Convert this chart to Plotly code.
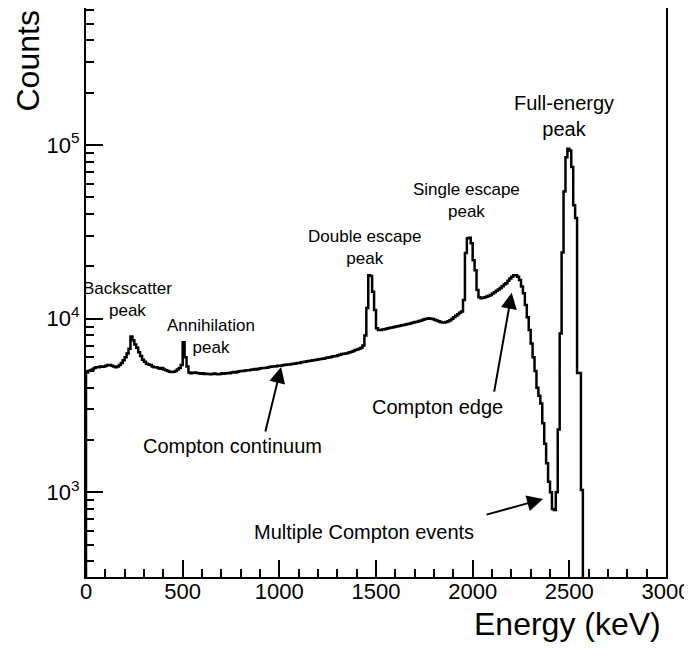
import plotly.graph_objects as go

# ---------------- data ----------------
bin_width_keV = 10
bin_low_keV = list(range(0, 3000, bin_width_keV))

counts = [
    4900, 5000, 5050, 5100, 5200, 5250, 5250, 5300, 5280, 5300,        # 0-90
    5350, 5400, 5400, 5350, 5300, 5250, 5300, 5400, 5550, 5750,        # 100-190
    6000, 6300, 6700, 7900, 7500, 7100, 6800, 6400, 6100, 5800,        # 200-290
    5650, 5500, 5450, 5400, 5300, 5250, 5250, 5200, 5150, 5200,        # 300-390
    5100, 5050, 5000, 4950, 4930, 4950, 5000, 5100, 5200, 5400,        # 400-490
    7300, 6000, 5300, 4900, 4850, 4880, 4900, 4870, 4850, 4820,        # 500-590
    4850, 4800, 4820, 4800, 4780, 4800, 4830, 4800, 4780, 4800,        # 600-690
    4850, 4820, 4850, 4870, 4850, 4900, 4920, 4900, 4950, 4970,        # 700-790
    5000, 5000, 5030, 5050, 5050, 5080, 5100, 5120, 5100, 5150,        # 800-890
    5180, 5200, 5200, 5220, 5250, 5280, 5300, 5300, 5320, 5350,        # 900-990
    5350, 5380, 5400, 5420, 5450, 5450, 5480, 5500, 5520, 5550,        # 1000-1090
    5550, 5600, 5620, 5650, 5680, 5700, 5720, 5750, 5780, 5800,        # 1100-1190
    5830, 5850, 5880, 5900, 5950, 5980, 6000, 6050, 6080, 6100,        # 1200-1290
    6150, 6200, 6250, 6280, 6300, 6350, 6400, 6450, 6500, 6600,        # 1300-1390
    6650, 6700, 6800, 7000, 8000, 11500, 17800, 17600, 14300, 11200,   # 1400-1490
    8800, 8600, 8600, 8650, 8700, 8750, 8800, 8850, 8900, 8950,        # 1500-1590
    9000, 9050, 9100, 9150, 9200, 9250, 9300, 9350, 9450, 9500,        # 1600-1690
    9550, 9600, 9700, 9750, 9850, 9950, 10000, 10050, 10000, 9950,     # 1700-1790
    9850, 9750, 9650, 9550, 9500, 9500, 9550, 9650, 9800, 10000,       # 1800-1890
    10200, 10400, 10600, 10800, 11000, 12800, 23900, 29000, 29200, 27200,  # 1900-1990
    21700, 19000, 14600, 13300, 13100, 13200, 13300, 13400, 13550, 13700,  # 2000-2090
    13950, 14200, 14450, 14700, 15000, 15350, 15700, 16000, 16500, 17000,  # 2100-2190
    17400, 17800, 17800, 17400, 16700, 15300, 14000, 12000, 10200, 8600,   # 2200-2290
    7200, 6000, 5000, 4000, 3600, 3250, 2500, 1900, 1470, 1150,        # 2300-2390
    1000, 800, 790, 1000, 2300, 8200, 24000, 54000, 85000, 95000,      # 2400-2490
    93000, 74600, 45000, 38000, 4870, 4870, 1030, 0, 0, 0,             # 2500-2590
    0, 0, 0, 0, 0, 0, 0, 0, 0, 0,                                      # 2600-2690
    0, 0, 0, 0, 0, 0, 0, 0, 0, 0,                                      # 2700-2790
    0, 0, 0, 0, 0, 0, 0, 0, 0, 0,                                      # 2800-2890
    0, 0, 0, 0, 0, 0, 0, 0, 0, 0,                                      # 2900-2990
]

x_tick_vals = [0, 500, 1000, 1500, 2000, 2500, 3000]
y_major_vals = [1e3, 1e4, 1e5]
y_major_text = ["10<sup>3</sup>", "10<sup>4</sup>", "10<sup>5</sup>"]
y_minor_vals = [400, 500, 600, 700, 800, 900,
                2000, 3000, 4000, 5000, 6000, 7000, 8000, 9000,
                20000, 30000, 40000, 50000, 60000, 70000, 80000, 90000,
                200000, 300000, 400000, 500000, 600000]

# ---------------- figure ----------------
floor = 1.0  # empty bins drawn at the bottom of the log axis
y_vals = [c if c > 0 else floor for c in counts]
x_step = [bin_low_keV[0]] + bin_low_keV + [bin_low_keV[-1] + bin_width_keV]
y_step = [floor] + y_vals + [y_vals[-1]]

FONT = "Liberation Sans, Arial, Helvetica, sans-serif"

fig = go.Figure()
fig.add_trace(go.Scatter(
    x=x_step, y=y_step, mode="lines",
    line=dict(color="black", width=2.5, shape="hv"),
    hoverinfo="skip", showlegend=False,
))

fig.update_layout(
    width=692, height=652,
    margin=dict(l=78, r=34, t=0, b=83, autoexpand=False),
    plot_bgcolor="white", paper_bgcolor="white",
    font=dict(family=FONT, color="black"),
    showlegend=False,
)

fig.update_xaxes(
    range=[0, 3000], tickmode="array", tickvals=x_tick_vals,
    ticks="inside", ticklen=17, tickwidth=1.5, tickcolor="black",
    ticklabelstandoff=-6,
    minor=dict(dtick=100, tick0=0, ticks="inside", ticklen=8, tickwidth=1.5, tickcolor="black"),
    showline=True, linewidth=2, linecolor="black", mirror=True,
    showgrid=False, zeroline=False, automargin=False,
    tickfont=dict(size=22, family=FONT, color="black"),
)
fig.update_yaxes(
    type="log", range=[2.512, 5.789],
    tickmode="array", tickvals=y_major_vals, ticktext=y_major_text,
    ticks="inside", ticklen=17, tickwidth=1.5, tickcolor="black",
    minor=dict(tickmode="array", tickvals=y_minor_vals, ticks="inside", ticklen=8, tickwidth=1.5, tickcolor="black"),
    showline=True, linewidth=2, linecolor="black", mirror=True,
    showgrid=False, zeroline=False, automargin=False,
    tickfont=dict(size=22, family=FONT, color="black"),
)

# axis titles
fig.add_annotation(text="Energy (keV)", xref="paper", yref="paper",
                   x=0.995, y=-0.0826, xanchor="right", yanchor="middle",
                   showarrow=False, font=dict(size=32, family=FONT, color="black"))
fig.add_annotation(text="Counts", xref="paper", yref="paper",
                   x=-0.10, y=0.906, xanchor="center", yanchor="middle", textangle=-90,
                   showarrow=False, font=dict(size=32, family=FONT, color="black"))

# peak labels (x in keV, y in log10 counts)
small = dict(size=17, family=FONT, color="black")
medium = dict(size=20, family=FONT, color="black")
labels = [
    ("Backscatter<br>peak", 217, 4.113, small),
    ("Annihilation<br>peak", 647, 3.900, small),
    ("Double escape<br>peak", 1438, 4.412, small),
    ("Single escape<br>peak", 1966, 4.683, small),
    ("Full-energy<br>peak", 2472, 5.167, medium),
    ("Compton edge", 1816, 3.491, medium),
    ("Compton continuum", 760, 3.266, medium),
    ("Multiple Compton events", 1438, 2.771, medium),
]
for txt, xv, yv, f in labels:
    fig.add_annotation(text=txt, x=xv, y=yv, xref="x", yref="y",
                       showarrow=False, font=f, align="center")

# arrows: (head x, head y, tail x, tail y)
arrows = [
    (1009, 3.721, 926, 3.341),
    (2202, 4.149, 2110, 3.571),
    (2364, 2.961, 2064, 2.869),
]
for hx, hy, tx, ty in arrows:
    fig.add_annotation(x=hx, y=hy, ax=tx, ay=ty, xref="x", yref="y",
                       axref="x", ayref="y", text="", showarrow=True,
                       arrowhead=2, arrowsize=1.6, arrowwidth=2, arrowcolor="black")

fig.write_html("out.html")
